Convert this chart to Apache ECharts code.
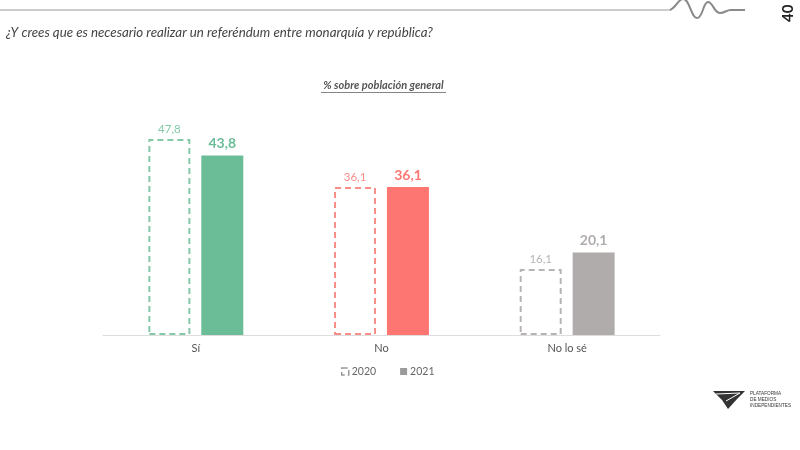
<!DOCTYPE html>
<html>
<head>
<meta charset="utf-8">
<script src="https://cdn.jsdelivr.net/npm/echarts@6/dist/echarts.min.js"></script>
<style>html,body{margin:0;padding:0;background:#fff}#c{width:800px;height:450px}</style>
</head>
<body>
<div id="c"></div>
<script>
var categories = ['Sí', 'No', 'No lo sé'];
var values2020 = [47.8, 36.1, 16.1];
var values2021 = [43.8, 36.1, 20.1];
var seriesNames = ['2020', '2021'];
var colors = ['#6bbd98', '#fd7672', '#b1acac'];
var lightColors = ['#86c9a8', '#f98d88', '#b8b4b4'];

var chart = echarts.init(document.getElementById('c'));
var data2020 = values2020.map(function (v, i) {
  return {
    value: v,
    itemStyle: { color: 'rgba(255,255,255,0)', borderColor: lightColors[i], borderWidth: 2, borderType: [6, 4] },
    label: { color: lightColors[i] }
  };
});
var data2021 = values2021.map(function (v, i) {
  return { value: v, itemStyle: { color: colors[i] }, label: { color: colors[i] } };
});
var fmt = function (p) { return String(p.value).replace('.', ','); };
var waveStyle = { fill: 'none', stroke: '#8a8a8a', lineWidth: 2 };

chart.setOption({
  animation: false,
  title: {
    text: '¿Y crees que es necesario realizar un referéndum entre monarquía y república?',
    left: 1, top: 21,
    textStyle: { fontFamily: 'Lato', fontStyle: 'italic', fontWeight: 'normal', fontSize: 13.3, color: '#444' }
  },
  grid: { left: 103, right: 140, top: 130, bottom: 115 },
  legend: {
    data: [
      { name: '2020', itemStyle: { color: '#fff', borderColor: '#9a9a9a', borderWidth: 1.5, borderType: 'dashed' } },
      { name: '2021', itemStyle: { color: '#9a9a9a' } }
    ],
    left: 336, top: 361, itemWidth: 7, itemHeight: 7, itemGap: 24,
    icon: 'rect',
    textStyle: { fontFamily: 'Lato', fontSize: 10.5, color: '#666', padding: [0, 0, 0, -2] }
  },
  xAxis: {
    type: 'category', data: categories,
    axisLine: { lineStyle: { color: '#ddd' } },
    axisTick: { show: false },
    axisLabel: { fontFamily: 'Lato', fontSize: 11, color: '#555', margin: 8 }
  },
  yAxis: { type: 'value', min: 0, max: 50, show: false, splitLine: { show: false } },
  series: [
    {
      name: seriesNames[0], type: 'bar', data: data2020, barWidth: 42, barGap: '26%',
      label: { show: true, position: 'top', distance: 4, fontFamily: 'Lato', fontSize: 11.5, formatter: fmt }
    },
    {
      name: seriesNames[1], type: 'bar', data: data2021, barWidth: 42,
      label: { show: true, position: 'top', distance: 5, fontFamily: 'Lato', fontSize: 14, fontWeight: 'bold', formatter: fmt }
    }
  ],
  graphic: [
    { type: 'line', shape: { x1: 0, y1: 10, x2: 670, y2: 10 }, style: { stroke: '#999', lineWidth: 1.2 } },
    { type: 'bezierCurve', shape: { x1: 670, y1: 10, cpx1: 676, cpy1: 8, cpx2: 678, cpy2: -1, x2: 683, y2: -1 }, style: waveStyle },
    { type: 'bezierCurve', shape: { x1: 683, y1: -1, cpx1: 690, cpy1: -1, cpx2: 691, cpy2: 18, x2: 697, y2: 18 }, style: waveStyle },
    { type: 'bezierCurve', shape: { x1: 697, y1: 18, cpx1: 703, cpy1: 18, cpx2: 703, cpy2: 2, x2: 708, y2: 2 }, style: waveStyle },
    { type: 'bezierCurve', shape: { x1: 708, y1: 2, cpx1: 713, cpy1: 2, cpx2: 714, cpy2: 13, x2: 720, y2: 13 }, style: waveStyle },
    { type: 'bezierCurve', shape: { x1: 720, y1: 13, cpx1: 725, cpy1: 13, cpx2: 726, cpy2: 10, x2: 731, y2: 10 }, style: waveStyle },
    { type: 'line', shape: { x1: 731, y1: 10, x2: 745, y2: 10 }, style: waveStyle },
    { type: 'text', x: 781, y: 22, rotation: Math.PI / 2, style: { text: '40', fontFamily: 'Lato', fontWeight: 'bold', fontSize: 15, fill: '#222', align: 'left', verticalAlign: 'top' } },
    { type: 'text', x: 383.5, y: 80, style: { text: '% sobre población general', fontFamily: 'Lato', fontStyle: 'italic', fontWeight: 'bold', fontSize: 11, fill: '#555', align: 'center' } },
    { type: 'line', shape: { x1: 321, y1: 92.5, x2: 446, y2: 92.5 }, style: { stroke: '#666', lineWidth: 0.8 } },
    { type: 'polygon', shape: { points: [[713, 391], [745, 391], [738, 398], [728, 409], [722, 400]] }, style: { fill: '#333' } },
    { type: 'polyline', shape: { points: [[716, 394], [740, 393], [726, 401]] }, style: { stroke: '#fff', lineWidth: 1, fill: 'none' } },
    { type: 'text', x: 750, y: 390, scaleX: 0.78, style: { text: 'PLATAFORMA\nDE MEDIOS\nINDEPENDIENTES', fontFamily: 'Liberation Sans', fontSize: 6, lineHeight: 6.3, fill: '#333' } }
  ]
});
</script>
</body>
</html>
